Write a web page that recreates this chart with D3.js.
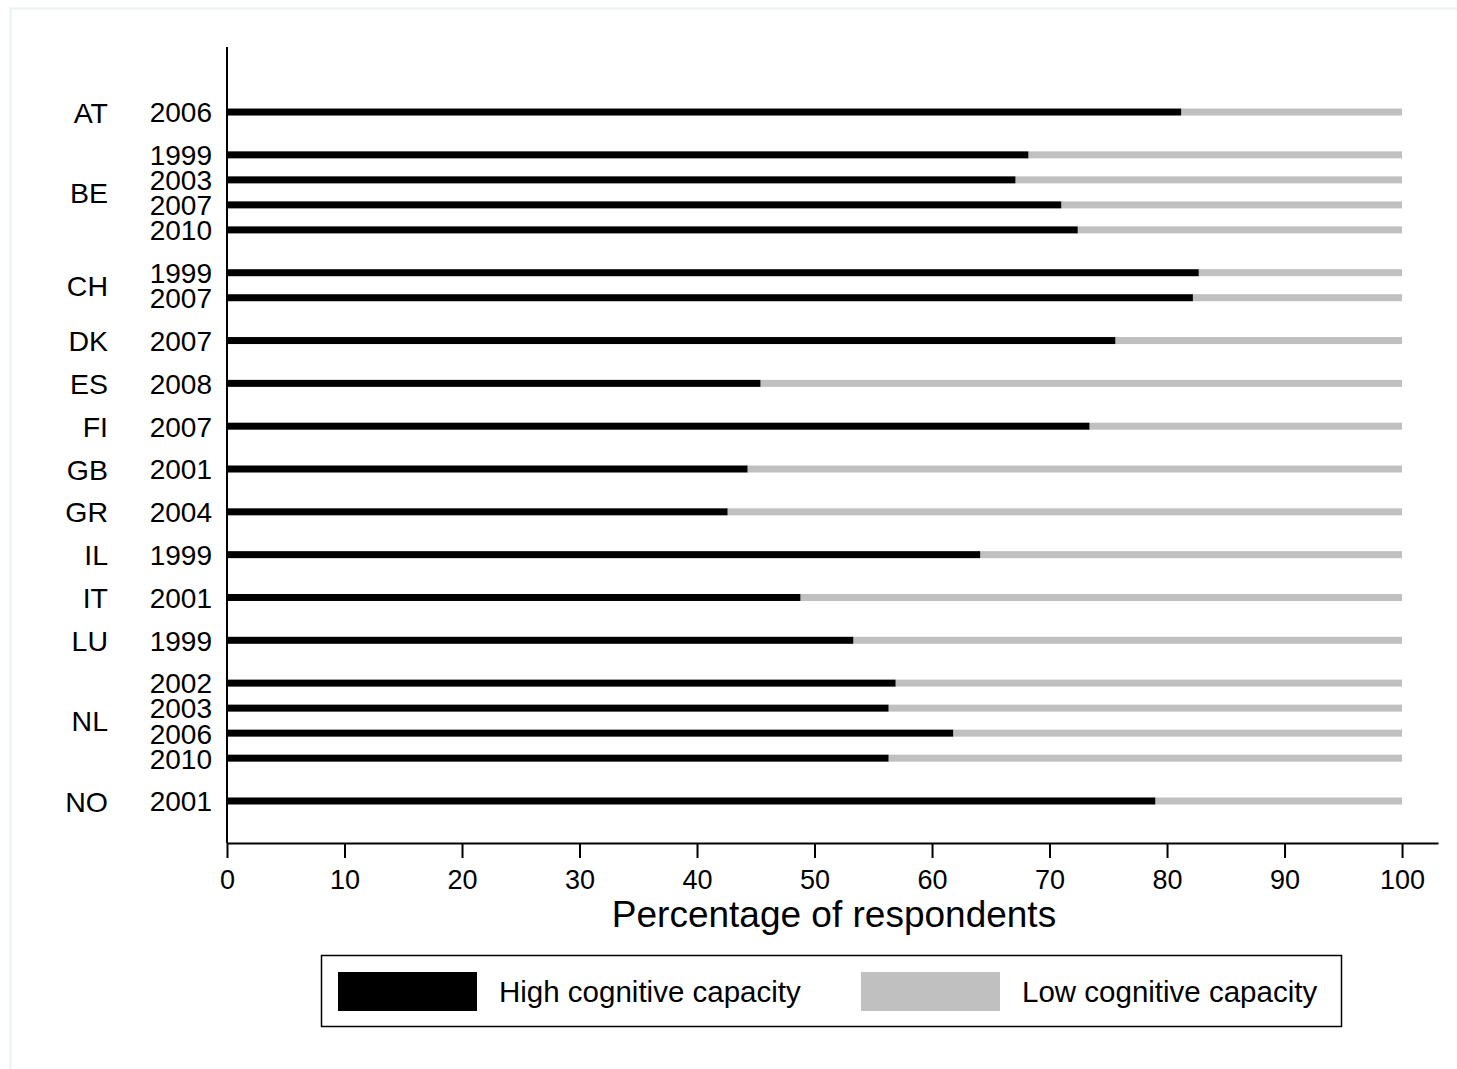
<!DOCTYPE html>
<html>
<head>
<meta charset="utf-8">
<style>
html, body { margin: 0; padding: 0; background: #fff; }
svg text { font-family: 'Liberation Sans', Arial, sans-serif; fill: #000; }
</style>
</head>
<body>
<svg id="chart" width="1457" height="1069"></svg>
<script src="https://cdn.jsdelivr.net/npm/d3@7/dist/d3.min.js"></script>
<script>
// data
var countries = ["AT", "BE", "CH", "DK", "ES", "FI", "GB", "GR", "IL", "IT", "LU", "NL", "NO"];
var years = [
  ["2006"],
  ["1999", "2003", "2007", "2010"],
  ["1999", "2007"],
  ["2007"], ["2008"], ["2007"], ["2001"], ["2004"], ["1999"], ["2001"], ["1999"],
  ["2002", "2003", "2006", "2010"],
  ["2001"]
];
var highShare = [
  [81.2],
  [68.2, 67.1, 71.0, 72.4],
  [82.7, 82.2],
  [75.6], [45.4], [73.4], [44.3], [42.6], [64.1], [48.8], [53.3],
  [56.9, 56.3, 61.8, 56.3],
  [79.0]
];
var xTicks = [0, 10, 20, 30, 40, 50, 60, 70, 80, 90, 100];
var seriesNames = ["High cognitive capacity", "Low cognitive capacity"];
var seriesColors = ["#000000", "#c0c0c0"];

var svg = d3.select("#chart");

// light frame round the figure
svg.append("rect")
  .attr("x", 10.5).attr("y", 8.5)
  .attr("width", 1460).attr("height", 1070)
  .attr("fill", "none").attr("stroke", "#eaf1f1").attr("stroke-width", 2);

// rows: one step inside a group, a wider step between groups
var groupStep = 1.712;
var rows = [];
var pos = 0;
countries.forEach(function(c, gi) {
  if (gi > 0) pos += groupStep - 1;
  years[gi].forEach(function(yr, j) {
    if (gi > 0 || j > 0) pos += 1;
    rows.push({ country: c, year: yr, high: highShare[gi][j], pos: pos, group: gi });
  });
});
var lastPos = pos;

var x = d3.scaleLinear().domain([0, 103.06]).range([227, 1438]);
var y = d3.scaleLinear().domain([-2.6, lastPos + 1.68]).range([47, 843]);
var barH = 7;

// bars: grey remainder first, then the black share
svg.append("g").selectAll("rect")
  .data(rows).enter().append("rect")
  .attr("x", function(d) { return x(d.high); })
  .attr("y", function(d) { return y(d.pos) - barH / 2; })
  .attr("width", function(d) { return x(100) - x(d.high); })
  .attr("height", barH)
  .attr("fill", seriesColors[1]);

svg.append("g").selectAll("rect")
  .data(rows).enter().append("rect")
  .attr("x", x(0))
  .attr("y", function(d) { return y(d.pos) - barH / 2; })
  .attr("width", function(d) { return x(d.high) - x(0); })
  .attr("height", barH)
  .attr("fill", seriesColors[0]);

// year labels
svg.append("g").selectAll("text")
  .data(rows).enter().append("text")
  .attr("x", 212)
  .attr("y", function(d) { return y(d.pos); })
  .attr("dy", "0.37em")
  .attr("text-anchor", "end")
  .style("font-size", "28px")
  .text(function(d) { return d.year; });

// country labels, centred on their group
svg.append("g").selectAll("text")
  .data(countries).enter().append("text")
  .attr("x", 108)
  .attr("y", function(c, gi) {
    var g = rows.filter(function(r) { return r.group === gi; });
    return (y(g[0].pos) + y(g[g.length - 1].pos)) / 2;
  })
  .attr("dy", "0.37em")
  .attr("text-anchor", "end")
  .style("font-size", "28.5px")
  .text(function(c) { return c; });

// left axis line
svg.append("line")
  .attr("x1", x(0)).attr("x2", x(0))
  .attr("y1", y.range()[0]).attr("y2", y.range()[1])
  .attr("stroke", "#000").attr("stroke-width", 2);

// bottom axis
var xAxis = svg.append("g")
  .attr("transform", "translate(0," + y.range()[1] + ")")
  .call(d3.axisBottom(x).tickValues(xTicks).tickSize(15).tickSizeOuter(0).tickPadding(12));
xAxis.select(".domain").attr("stroke-width", 2);
xAxis.selectAll(".tick line").attr("stroke-width", 2);
xAxis.selectAll(".tick text")
  .style("font-size", "27px")
  .style("font-family", "'Liberation Sans', Arial, sans-serif");

svg.append("text")
  .attr("x", 834).attr("y", 927)
  .attr("text-anchor", "middle")
  .style("font-size", "37px")
  .text("Percentage of respondents");

// legend
var legend = svg.append("g");
legend.append("rect")
  .attr("x", 321.5).attr("y", 955.5)
  .attr("width", 1020).attr("height", 71)
  .attr("fill", "#fff").attr("stroke", "#000").attr("stroke-width", 1.5);
var legendX = [338, 861];
seriesNames.forEach(function(name, i) {
  legend.append("rect")
    .attr("x", legendX[i]).attr("y", 972)
    .attr("width", 139).attr("height", 39)
    .attr("fill", seriesColors[i]);
  legend.append("text")
    .attr("x", legendX[i] + 161).attr("y", 991)
    .attr("dy", "0.36em")
    .style("font-size", "29.5px")
    .text(name);
});
</script>
</body>
</html>
